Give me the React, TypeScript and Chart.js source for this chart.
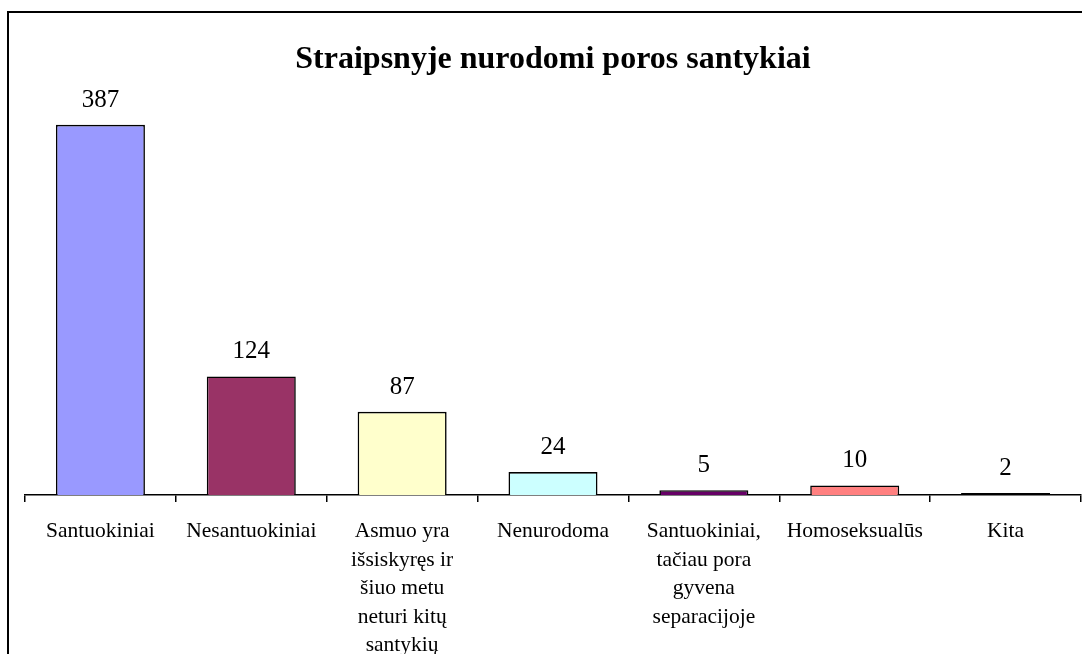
import React, { useEffect, useRef } from "react";
import { Chart, registerables } from "chart.js";

Chart.register(...registerables);

const TITLE = "Straipsnyje nurodomi poros santykiai";
const CATEGORIES: (string | string[])[] = [
  "Santuokiniai",
  "Nesantuokiniai",
  ["Asmuo yra", "išsiskyręs ir", "šiuo metu", "neturi kitų", "santykių"],
  "Nenurodoma",
  ["Santuokiniai,", "tačiau pora", "gyvena", "separacijoje"],
  "Homoseksualūs",
  "Kita",
];
const VALUES = [387, 124, 87, 24, 5, 10, 2];
const COLORS = ["#9999FF", "#993366", "#FFFFCC", "#CCFFFF", "#660066", "#FF8080", "#000000"];
const Y_MAX = 400;

const FONT = "'Liberation Serif', 'Times New Roman', serif";

const valueLabels = {
  id: "valueLabels",
  afterDatasetsDraw(chart: any) {
    const ctx = chart.ctx;
    const meta = chart.getDatasetMeta(0);
    ctx.save();
    ctx.font = `25px ${FONT}`;
    ctx.fillStyle = "#000";
    ctx.textAlign = "center";
    ctx.textBaseline = "alphabetic";
    meta.data.forEach((bar: any, i: number) => {
      ctx.fillText(String(VALUES[i]), bar.x, bar.y - 18);
    });
    ctx.restore();
  },
};

export default function App() {
  const ref = useRef<HTMLCanvasElement>(null);
  useEffect(() => {
    if (!ref.current) return;
    const chart = new Chart(ref.current, {
      type: "bar",
      data: {
        labels: CATEGORIES,
        datasets: [
          {
            data: VALUES,
            backgroundColor: COLORS,
            borderColor: "#000",
            borderWidth: 1.6,
            barPercentage: 0.59,
            categoryPercentage: 1,
          },
        ],
      },
      options: {
        responsive: false,
        animation: false,
        layout: { padding: { left: 25, right: 1, top: 0, bottom: 0 } },
        plugins: {
          legend: { display: false },
          tooltip: { enabled: false },
          title: {
            display: true,
            text: TITLE,
            color: "#000",
            font: { family: FONT, size: 32, weight: "bold", lineHeight: 1.2 },
            padding: { top: 41, bottom: 33 },
          },
        },
        scales: {
          y: {
            display: false,
            min: 0,
            max: Y_MAX,
          },
          x: {
            border: { display: true, color: "#000", width: 1.5 },
            grid: {
              display: true,
              drawOnChartArea: false,
              drawTicks: true,
              tickLength: 7,
              lineWidth: 1.5,
              color: "#000",
              offset: true,
            },
            ticks: {
              color: "#000",
              font: { family: FONT, size: 21.5, lineHeight: 1.33 },
              padding: 15,
              maxRotation: 0,
              minRotation: 0,
              autoSkip: false,
            },
            afterFit: (scale: any) => {
              scale.height = 159;
            },
          },
        },
      },
      plugins: [valueLabels],
    });
    return () => chart.destroy();
  }, []);

  return (
    <div style={{ position: "fixed", left: 0, top: 0, width: 1082, height: 654, overflow: "hidden", background: "#fff" }}>
      <div
        style={{
          position: "absolute",
          left: 7,
          top: 11,
          width: 1200,
          height: 800,
          border: "2px solid #000",
          boxSizing: "border-box",
        }}
      />
      <canvas ref={ref} width={1082} height={654} style={{ position: "absolute", left: 0, top: 0 }} />
    </div>
  );
}
